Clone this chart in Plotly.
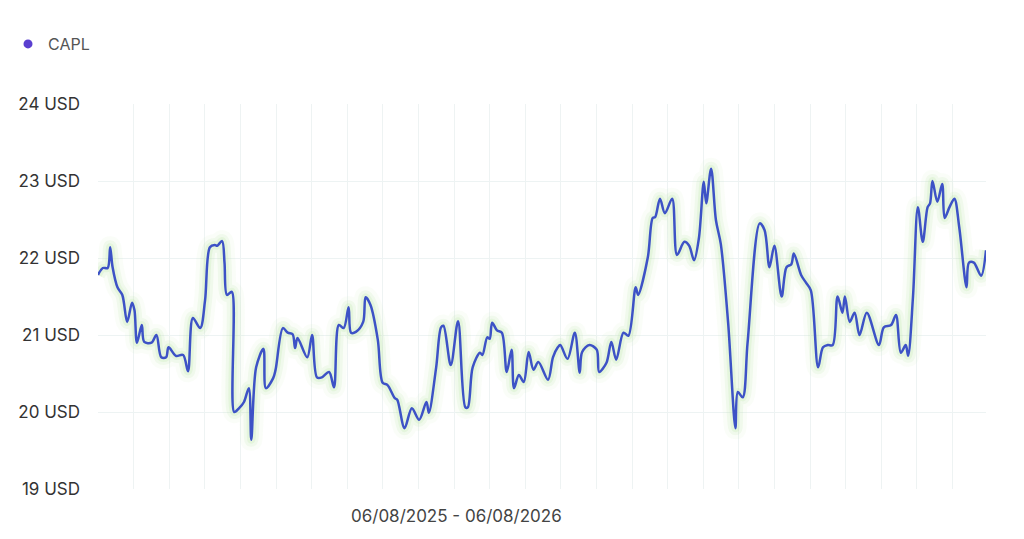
import plotly.graph_objects as go

# Day offsets from 06/08/2025 and closing prices (USD)
days = [0, 2, 4, 5, 6, 8, 10, 12, 14, 15, 16, 18, 19, 22, 24, 26, 28, 29, 32, 35,
        37, 39, 42, 44, 46, 48, 49, 51, 52, 53, 55, 56, 58, 60, 62, 63, 65, 68, 69, 72,
        73, 76, 78, 80, 81, 82, 86, 88, 90, 92, 95, 97, 99, 101, 103, 104, 106, 109, 110, 112,
        115, 117, 119, 122, 123, 126, 129, 132, 135, 136, 139, 141, 142, 145, 148, 151, 152, 154, 157, 158,
        160, 161, 162, 164, 166, 168, 170, 171, 173, 175, 177, 179, 181, 185, 187, 189, 190, 193, 196, 198,
        199, 202, 205, 206, 209, 211, 213, 216, 218, 221, 222, 226, 228, 229, 231, 233, 236, 238, 241, 243,
        245, 247, 249, 250, 252, 254, 256, 259, 262, 263, 265, 267, 272, 274, 276, 278, 281, 283, 285, 286,
        289, 291, 293, 296, 298, 300, 302, 304, 306, 307, 309, 311, 313, 316, 321, 323, 326, 328, 330, 332,
        333, 335, 337, 339, 341, 342, 343, 345, 347, 348, 350, 352, 354, 357, 358, 360, 363, 365]

price = [21.78, 21.87, 21.87, 22.14, 21.88, 21.62, 21.52, 21.17, 21.42, 21.32, 20.90, 21.13, 20.91, 20.90, 21.00, 20.71, 20.71, 20.84, 20.73, 20.74,
         20.53, 21.22, 21.09, 21.45, 22.14, 22.17, 22.16, 22.22, 21.94, 21.52, 21.56, 20.00, 20.05, 20.13, 20.31, 19.64, 20.58, 20.82, 20.31, 20.44,
         20.55, 21.09, 21.03, 21.01, 20.83, 20.96, 20.71, 21.00, 20.45, 20.45, 20.52, 20.32, 21.13, 21.09, 21.36, 21.03, 21.04, 21.17, 21.49, 21.39,
         20.94, 20.38, 20.35, 20.18, 20.16, 19.79, 20.05, 19.90, 20.13, 19.99, 20.58, 21.10, 21.12, 20.61, 21.18, 20.06, 20.06, 20.58, 20.77, 20.74,
         20.97, 20.95, 21.16, 21.06, 21.03, 20.52, 20.81, 20.31, 20.48, 20.39, 20.78, 20.55, 20.65, 20.42, 20.71, 20.84, 20.87, 20.69, 21.03, 20.51,
         20.78, 20.87, 20.81, 20.52, 20.64, 20.91, 20.68, 21.03, 20.99, 21.62, 21.52, 22.01, 22.52, 22.53, 22.77, 22.58, 22.77, 22.04, 22.21, 22.16,
         21.97, 22.26, 22.99, 22.71, 23.16, 22.49, 22.18, 21.16, 19.79, 20.26, 20.19, 20.90, 22.45, 22.36, 21.88, 22.16, 21.50, 21.88, 21.92, 22.06,
         21.78, 21.68, 21.58, 20.58, 20.84, 20.87, 20.87, 21.50, 21.29, 21.50, 21.17, 21.29, 21.00, 21.29, 20.87, 21.10, 21.13, 21.26, 20.77, 20.87,
         20.73, 21.50, 22.66, 22.21, 22.66, 22.71, 23.00, 22.73, 22.96, 22.52, 22.66, 22.77, 22.40, 21.62, 21.94, 21.94, 21.77, 22.10]

series_name = "CAPL"
y_ticks = [19, 20, 21, 22, 23, 24]
y_tick_labels = [f"{v} USD" for v in y_ticks]
period_label = "06/08/2025 - 06/08/2026"

FONT = "Inter"
LINE_COLOR = "#3d52c6"
SMOOTH = 0.9

# the page body adds an 8px offset, so the figure is sized to fit the window
W, H = 1016, 531

fig = go.Figure()

# soft green glow beneath the line
for w, a in [(22, 0.08), (14, 0.14), (8, 0.22)]:
    fig.add_trace(go.Scatter(
        x=days, y=price, mode="lines",
        line=dict(color=f"rgba(185,230,165,{a})", width=w, shape="spline", smoothing=SMOOTH),
        hoverinfo="skip", showlegend=False,
    ))

fig.add_trace(go.Scatter(
    x=days, y=price, mode="lines", name=series_name,
    line=dict(color=LINE_COLOR, width=2.5, shape="spline", smoothing=SMOOTH),
    showlegend=False,
))

# legend entry shown as a dot
fig.add_trace(go.Scatter(
    x=[None], y=[None], mode="markers", name=series_name,
    marker=dict(color="#5a3fd0", size=9, symbol="circle"),
))

fig.update_layout(
    width=W, height=H,
    margin=dict(l=90, r=38, t=96, b=50, autoexpand=False),
    paper_bgcolor="white", plot_bgcolor="white",
    font=dict(family=FONT, color="#333333"),
    showlegend=True,
    legend=dict(
        xref="container", yref="container",
        x=0.0, y=1 - 36 / H, xanchor="left", yanchor="middle",
        font=dict(family=FONT, size=16, color="#555555"),
        itemwidth=30,
    ),
    xaxis=dict(
        range=[0, 365], tick0=0, dtick=365 * 35.6 / 888,
        showgrid=True, gridcolor="#eef3f3", gridwidth=1,
        showticklabels=False, zeroline=False, showline=False, ticks="",
        automargin=False,
    ),
    yaxis=dict(
        range=[19, 24], tickvals=y_ticks, ticktext=y_tick_labels,
        showgrid=True, gridcolor="#edf3f3", gridwidth=1,
        zeroline=False, showline=False, automargin=False,
        tickfont=dict(family=FONT, size=17, color="#333333"),
        ticklabelstandoff=17,
    ),
    annotations=[dict(
        text=period_label, xref="paper", yref="paper",
        x=(456 - 98) / 888, y=-0.07, xanchor="center", yanchor="middle",
        showarrow=False, font=dict(family=FONT, size=17, color="#444444"),
    )],
)

fig.write_html("out.html")
